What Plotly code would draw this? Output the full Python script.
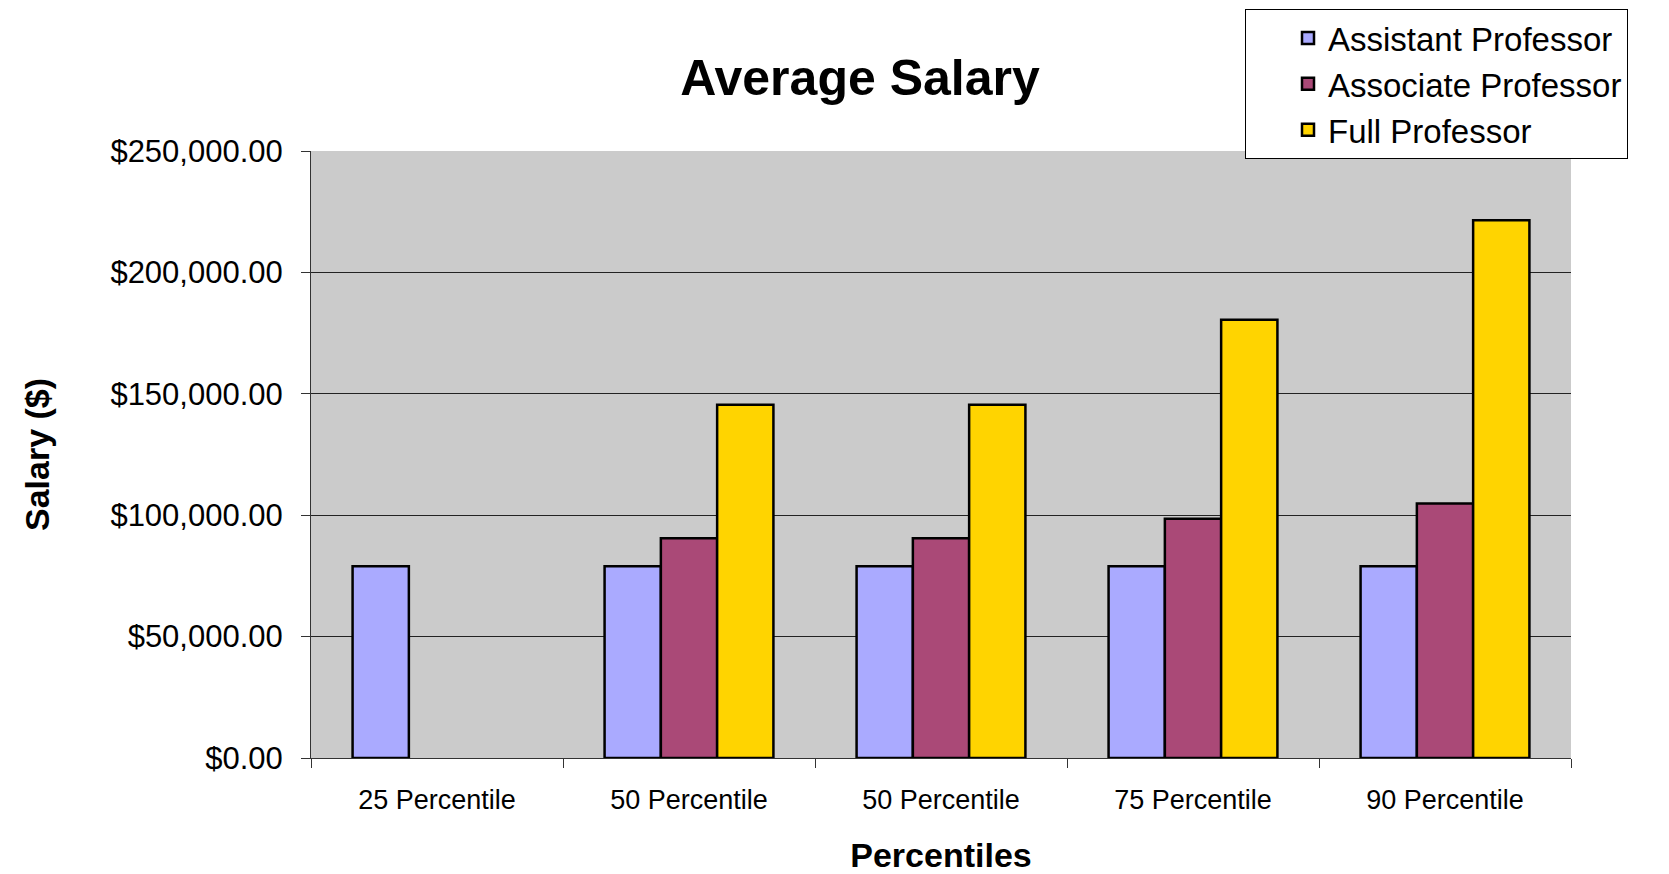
import plotly.graph_objects as go

categories = ["25 Percentile", "50 Percentile", "50 Percentile", "75 Percentile", "90 Percentile"]
assistant = [79000, 79000, 79000, 79000, 79000]
associate = [None, 90500, 90500, 98500, 104800]
full_prof = [None, 145500, 145500, 180500, 221500]
series_names = ["Assistant Professor", "Associate Professor", "Full Professor"]
y_ticks = [0, 50000, 100000, 150000, 200000, 250000]

colors = ["#AAAAFF", "#AA4977", "#FFD400"]
FONT = "Liberation Sans, Arial, sans-serif"

W, H = 1661, 866  # page body has an 8px margin

xpos = list(range(len(categories)))
fig = go.Figure()
for name, vals, col in zip(series_names, [assistant, associate, full_prof], colors):
    fig.add_trace(go.Bar(x=xpos, y=vals, name=name,
                         marker=dict(color=col, line=dict(color="black", width=2.5))))

fig.update_layout(
    width=W, height=H,
    margin=dict(l=303, r=98, t=143, b=116, autoexpand=False),
    paper_bgcolor="white", plot_bgcolor="#CBCBCB",
    barmode="group", bargap=0.33, bargroupgap=0,
    font=dict(family=FONT, color="black"),
    title=dict(text="<b>Average Salary</b>", x=852/W, xanchor="center", y=1-69/H, yanchor="middle",
               xref="container", yref="container", font=dict(size=50, family=FONT, color="black")),
    showlegend=True,
    legend=dict(xref="container", yref="container", x=1237/W, y=1-1/H, xanchor="left", yanchor="top",
                bgcolor="white", bordercolor="black", borderwidth=1, font=dict(size=33, family=FONT),
                indentation=42, tracegroupgap=0, itemwidth=30),
)
fig.update_xaxes(
    range=[-0.5, 4.5], tickmode="array", tickvals=xpos, ticktext=categories, ticks="",
    tickfont=dict(size=27, family=FONT), ticklabelstandoff=18,
    showline=True, linecolor="#333333", linewidth=1, showgrid=False, zeroline=False,
    minor=dict(tickmode="array", tickvals=[i + 0.5 for i in range(-1, 5)], ticks="outside", ticklen=9,
               tickcolor="#333333", tickwidth=1, showgrid=False),
    title=dict(text="<b>Percentiles</b>", font=dict(size=34, family=FONT), standoff=30),
)
fig.update_yaxes(
    range=[0, 250000], tickmode="array", tickvals=y_ticks, tickformat="$,.2f",
    ticks="outside", ticklen=9, tickcolor="#333333", tickfont=dict(size=31, family=FONT),
    ticklabelstandoff=12,
    showline=True, linecolor="#333333", linewidth=1, showgrid=True, gridcolor="#222222", gridwidth=1,
    zeroline=False,
    title=dict(text="<b>Salary ($)</b>", font=dict(size=34, family=FONT), standoff=50),
)
fig.write_html("out.html")
